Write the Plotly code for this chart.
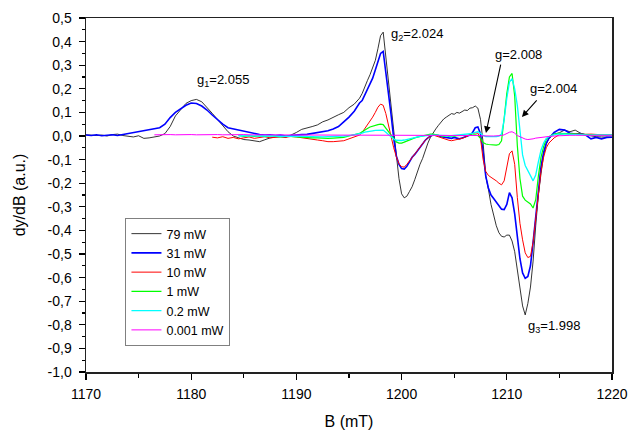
import numpy as np
import plotly.graph_objects as go

# Field grid (mT): coarse, fine, coarse
B = np.r_[np.arange(1170, 1196, 0.5), np.arange(1196, 1214, 0.25), np.arange(1214, 1220.01, 0.5)]

N = None
# ---- 79 mW ----
p79_a = [0.005, 0.003, 0.002, 0.004,
         0.0, 0.006, 0.008, 0.002,
         -0.002, -0.004, 0.001, -0.01,
         -0.008, -0.004, 0.0, 0.01,
         0.04, 0.085, 0.113, 0.138,
         0.15, 0.155, 0.145, 0.122,
         0.096, 0.07, 0.045, 0.018,
         0.0, -0.008, -0.015, -0.017,
         -0.021, -0.024, -0.016, -0.008,
         -0.004, -0.003, -0.006, 0.004,
         0.015, 0.028, 0.033, 0.04,
         0.047, 0.06, 0.068, 0.08,
         0.09, 0.1, 0.12, 0.135]
p79_b = [0.16, 0.18, 0.212, 0.235, 0.26, 0.29, 0.32, 0.37,
         0.425, 0.44, 0.33, 0.23, 0.12, 0.02, -0.08, -0.18,
         -0.245, -0.262, -0.255, -0.235, -0.215, -0.185, -0.15, -0.12,
         -0.095, -0.06, -0.03, -0.005, 0.015, 0.03, 0.045, 0.06,
         0.072, 0.08, 0.088, 0.095, 0.092, 0.1, 0.097, 0.105,
         0.11, 0.108, 0.118, 0.12, 0.127, 0.118, 0.07, -0.03,
         -0.17, -0.225, -0.29, -0.335, -0.38, -0.41, -0.425, -0.428,
         -0.42, -0.42, -0.445, -0.49, -0.56, -0.65, -0.72, -0.758,
         -0.71, -0.64, -0.53, -0.38, -0.25, -0.16, -0.08, -0.035]
p79_c = [-0.01, 0.008, 0.014, 0.025, 0.018, 0.025, 0.012, 0.004, 0.0, -0.003, -0.004, -0.006, -0.005]

# ---- 31 mW ----
p31_a = [0.004, 0.002, 0.005, 0.001,
         0.003, 0.005, 0.002, 0.006,
         0.01, 0.015, 0.018, 0.02,
         0.024, 0.028, 0.035, 0.05,
         0.078, 0.1, 0.117, 0.13,
         0.14, 0.138, 0.127, 0.11,
         0.089, 0.068, 0.05, 0.035,
         0.03, 0.025, 0.018, 0.014,
         0.01, 0.006, 0.004, 0.005,
         0.002, 0.004, 0.0, 0.003,
         0.004, 0.006, 0.007, 0.01,
         0.015, 0.018, 0.022, 0.03,
         0.04, 0.06, 0.08, 0.105]
p31_b = [0.14, 0.15, 0.175, 0.2, 0.222, 0.245, 0.28, 0.32,
         0.35, 0.358, 0.27, 0.195, 0.09, -0.01, -0.085, -0.12,
         -0.138, -0.14, -0.128, -0.11, -0.09, -0.078, -0.062, -0.045,
         -0.03, -0.018, -0.008, 0.0, 0.004, 0.003, 0.002, -0.003,
         -0.005, -0.004, -0.008, -0.01, -0.006, -0.01, -0.012, -0.008,
         -0.005, 0.0, 0.004, 0.015, 0.035, 0.038, 0.01, -0.07,
         -0.17, -0.22, -0.25, -0.265, -0.28, -0.295, -0.31, -0.312,
         -0.29, -0.24, -0.262, -0.33, -0.43, -0.52, -0.58, -0.603,
         -0.595, -0.55, -0.45, -0.35, -0.23, -0.13, -0.07, -0.03]
p31_c = [-0.01, 0.015, 0.028, 0.025, 0.012, 0.008, 0.01, 0.004, -0.012, -0.006, -0.012, -0.006, -0.005]

# ---- 10 mW ----
p10_a = [N, N, N, N,
         N, N, N, N,
         N, N, N, N,
         N, N, N, N,
         N, N, N, N,
         N, N, N, N,
         -0.005, -0.008, -0.003, -0.01,
         -0.006, -0.012, -0.008, -0.004,
         -0.01, -0.006, -0.003, -0.008,
         -0.004, -0.003, -0.005, -0.002,
         -0.004, -0.008, -0.01, -0.013,
         -0.017, -0.02, -0.024, -0.024,
         -0.022, -0.02, -0.012, -0.004]
p10_b = [0.004, 0.015, 0.03, 0.045, 0.065, 0.08, 0.1, 0.122,
         0.135, 0.13, 0.095, 0.045, 0.0, -0.05, -0.088, -0.118,
         -0.13, -0.132, -0.12, -0.105, -0.09, -0.077, -0.062, -0.045,
         -0.03, -0.018, -0.008, 0.0, 0.004, 0.0, -0.004, -0.008,
         -0.012, -0.015, -0.018, -0.02, -0.018, -0.017, -0.012, -0.01,
         -0.006, 0.0, 0.006, 0.011, 0.013, 0.012, -0.01, -0.1,
         -0.15, -0.167, -0.175, -0.182, -0.19, -0.2, -0.207, -0.19,
         -0.13, -0.075, -0.063, -0.12, -0.26, -0.37, -0.44, -0.495,
         -0.515, -0.51, -0.45, -0.34, -0.23, -0.15, -0.09, -0.05]
p10_c = [-0.03, -0.008, 0.006, 0.011, 0.01, 0.008, 0.008, 0.007, 0.008, 0.006, 0.005, 0.004, 0.005]

# ---- 1 mW ----
p1_a = [N, N, N, N,
        N, N, N, N,
        N, N, N, N,
        N, N, N, N,
        N, N, N, N,
        N, N, N, N,
        N, N, N, N,
        N, 0.002, -0.002, 0.001,
        -0.002, 0.0, -0.003, 0.001,
        -0.002, -0.004, -0.001, -0.003,
        -0.004, -0.005, -0.006, -0.008,
        -0.008, -0.01, -0.01, -0.009,
        -0.007, -0.006, 0.0, 0.006]
p1_b = [0.011, 0.018, 0.026, 0.032, 0.038, 0.042, 0.045, 0.048,
        0.05, 0.048, 0.033, 0.018, 0.0, -0.015, -0.025, -0.03,
        -0.03, -0.026, -0.021, -0.016, -0.011, -0.008, -0.005, -0.002,
        0.0, 0.003, 0.006, 0.008, 0.008, 0.005, 0.002, 0.0,
        -0.002, 0.001, -0.002, 0.0, -0.002, 0.001, 0.002, 0.003,
        0.004, 0.005, 0.006, 0.006, 0.005, 0.002, -0.01, -0.028,
        -0.034, -0.036, -0.038, -0.037, -0.039, -0.036, -0.02, 0.075,
        0.18, 0.25, 0.265, 0.17, -0.04, -0.18, -0.255, -0.272,
        -0.28, -0.288, -0.305, -0.27, -0.17, -0.09, -0.045, -0.015]
p1_c = [-0.003, 0.008, 0.011, 0.01, 0.008, 0.006, 0.005, 0.006, 0.004, 0.005, 0.004, 0.005, 0.005]

# ---- 0.2 mW ----
p02_a = [N, N, N, N,
         N, N, N, N,
         N, N, N, N,
         N, N, N, N,
         N, N, N, N,
         N, N, N, N,
         N, N, N, N,
         N, 0.001, 0.0, 0.002,
         0.001, 0.0, 0.001, -0.001,
         0.0, -0.001, 0.0, -0.002,
         -0.001, -0.002, -0.003, -0.002,
         -0.003, -0.004, -0.003, -0.003,
         -0.002, 0.0, 0.002, 0.005]
p02_b = [0.008, 0.012, 0.016, 0.019, 0.021, 0.022, 0.024, 0.025,
         0.026, 0.025, 0.016, 0.005, -0.006, -0.013, -0.018, -0.02,
         -0.019, -0.017, -0.014, -0.011, -0.008, -0.006, -0.004, -0.002,
         0.0, 0.002, 0.003, 0.004, 0.004, 0.003, 0.002, 0.001,
         0.0, 0.0, 0.001, 0.001, 0.002, 0.002, 0.003, 0.004,
         0.005, 0.006, 0.008, 0.011, 0.015, 0.018, 0.012, 0.002,
         -0.003, -0.004, -0.004, -0.003, -0.003, -0.001, 0.008, 0.07,
         0.16, 0.228, 0.243, 0.2, 0.13, 0.02, -0.08, -0.125,
         -0.15, -0.168, -0.19, -0.165, -0.11, -0.06, -0.03, -0.01]
p02_c = [-0.003, 0.006, 0.009, 0.008, 0.006, 0.005, 0.005, 0.005, 0.004, 0.005, 0.004, 0.005, 0.005]

# ---- 0.001 mW ----
p0001_a = [N, N, N, N,
           N, N, N, N,
           N, N, N, N,
           N, 0.005, 0.006, 0.005,
           0.006, 0.005, 0.006, 0.006,
           0.006, 0.005, 0.006, 0.006,
           0.005, 0.006, 0.005, 0.006,
           0.005, 0.005, 0.006, 0.005,
           0.005, 0.005, 0.005, 0.005,
           0.005, 0.005, 0.004, 0.005,
           0.005, 0.004, 0.005, 0.005,
           0.004, 0.005, 0.004, 0.005,
           0.005, 0.004, 0.005, 0.005]
p0001_b = [0.005, 0.005, 0.004, 0.005, 0.005, 0.005, 0.005, 0.005,
           0.005, 0.005, 0.004, 0.004, 0.004, 0.003, 0.003, 0.003,
           0.003, 0.003, 0.003, 0.004, 0.004, 0.004, 0.004, 0.004,
           0.004, 0.004, 0.004, 0.004, 0.004, 0.004, 0.004, 0.004,
           0.004, 0.004, 0.004, 0.004, 0.003, 0.003, 0.003, 0.003,
           0.003, 0.003, 0.003, 0.003, 0.002, 0.002, 0.001, 0.0,
           0.0, 0.0, 0.0, 0.0, 0.0, 0.001, 0.002, 0.005,
           0.011, 0.016, 0.018, 0.012, 0.002, -0.004, -0.01, -0.013,
           -0.015, -0.015, -0.012, -0.009, -0.007, -0.005, -0.004, -0.003]
p0001_c = [-0.002, 0.0, 0.002, 0.003, 0.003, 0.003, 0.003, 0.003, 0.003, 0.003, 0.003, 0.003, 0.003]

series = [
    ("79 mW", p79_a + p79_b + p79_c, "#000000", 0.8),
    ("31 mW", p31_a + p31_b + p31_c, "#0000FF", 1.6),
    ("10 mW", p10_a + p10_b + p10_c, "#FF0000", 1.0),
    ("1 mW", p1_a + p1_b + p1_c, "#00FF00", 1.2),
    ("0.2 mW", p02_a + p02_b + p02_c, "#00FFFF", 1.3),
    ("0.001 mW", p0001_a + p0001_b + p0001_c, "#FF00FF", 1.0),
]

ytick_vals = [0.5, 0.4, 0.3, 0.2, 0.1, 0.0, -0.1, -0.2, -0.3, -0.4, -0.5, -0.6, -0.7, -0.8, -0.9, -1.0]
ytick_text = ["0,5", "0,4", "0,3", "0,2", "0,1", "0,0", "-0,1", "-0,2", "-0,3", "-0,4",
              "-0,5", "-0,6", "-0,7", "-0,8", "-0,9", "-1,0"]
xtick_vals = [1170, 1180, 1190, 1200, 1210, 1220]

FONT = "Liberation Sans, Arial, Helvetica, sans-serif"

fig = go.Figure()
for name, vals, color, w in series:
    fig.add_trace(go.Scatter(x=B, y=vals, mode="lines", name=name,
                             line=dict(color=color, width=w), connectgaps=False))

labels = [
    ("g<sub>1</sub>=2.055", 1183.0, 0.237),
    ("g<sub>2</sub>=2.024", 1201.5, 0.432),
    ("g=2.008", 1211.1, 0.347),
    ("g=2.004", 1214.4, 0.203),
    ("g<sub>3</sub>=1.998", 1214.5, -0.809),
]
for txt, xv, yv in labels:
    fig.add_annotation(x=xv, y=yv, xref="x", yref="y", text=txt, showarrow=False,
                       font=dict(family=FONT, size=13, color="black"))

arrows = [
    (1208.02, 0.013, 1209.45, 0.309),
    (1211.44, 0.081, 1212.97, 0.157),
]
for hx, hy, tx, ty in arrows:
    fig.add_annotation(x=hx, y=hy, ax=tx, ay=ty, xref="x", yref="y", axref="x", ayref="y",
                       text="", showarrow=True, arrowhead=2, arrowsize=1.2, arrowwidth=1.1,
                       arrowcolor="black")

fig.update_layout(
    width=630, height=431,
    margin=dict(l=86, r=18, t=18, b=59, autoexpand=False),
    paper_bgcolor="white", plot_bgcolor="white",
    font=dict(family=FONT, size=14, color="black"),
    showlegend=True,
    hovermode=False,
    legend=dict(x=0.075, y=0.435, xanchor="left", yanchor="top",
                bordercolor="#808080", borderwidth=1, bgcolor="white",
                font=dict(family=FONT, size=12.5, color="black"),
                tracegroupgap=0),
    xaxis=dict(range=[1170, 1220], tickmode="array", tickvals=xtick_vals, automargin=False,
               ticks="outside", ticklen=6, tickwidth=1.2, tickcolor="black",
               ticklabelstandoff=3,
               showline=True, linecolor="#222", linewidth=1.5, mirror=True,
               showgrid=False, zeroline=False,
               minor=dict(dtick=5, tick0=1170, ticks="outside", ticklen=4, tickwidth=1.2,
                          tickcolor="black", showgrid=False),
               tickfont=dict(size=14),
               title=dict(text="B (mT)", font=dict(size=16), standoff=14)),
    yaxis=dict(range=[-1.0, 0.5], tickmode="array", tickvals=ytick_vals, ticktext=ytick_text,
               automargin=False,
               ticks="outside", ticklen=6, tickwidth=1.2, tickcolor="black",
               ticklabelstandoff=4,
               showline=True, linecolor="#222", linewidth=1.5, mirror=True,
               showgrid=False, zeroline=False,
               minor=dict(dtick=0.05, tick0=0, ticks="outside", ticklen=3, tickwidth=1.2,
                          tickcolor="black", showgrid=False),
               tickfont=dict(size=14),
               title=dict(text="dy/dB (a.u.)", font=dict(size=16), standoff=18)),
)

fig.write_html("out.html", config={"displayModeBar": False, "staticPlot": True},
               post_script="document.body.style.margin='0';document.body.style.overflow='hidden';")
